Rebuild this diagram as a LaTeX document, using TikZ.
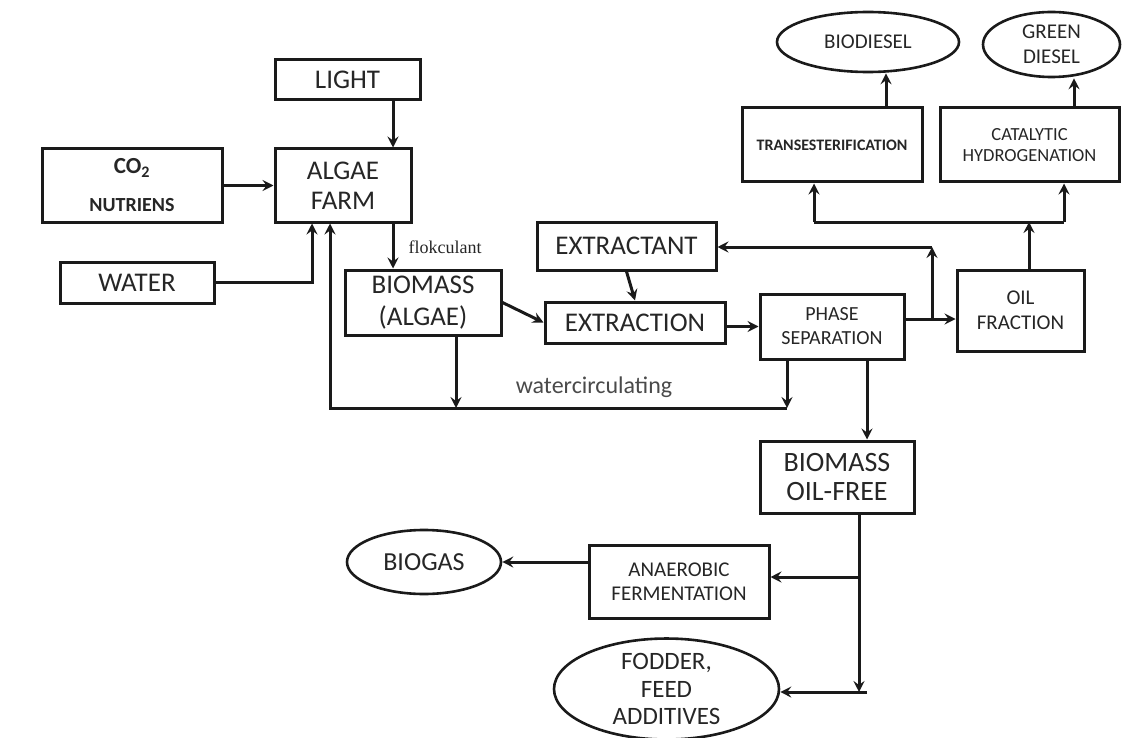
\documentclass[tikz,border=0pt]{standalone}
\usepackage{fontspec}
\setmainfont{Carlito}
\setsansfont{Carlito}
\newfontfamily\serifx{Liberation Serif}
\usetikzlibrary{arrows.meta,shapes.geometric}
\definecolor{linec}{HTML}{1A1A1A}
\definecolor{textc}{HTML}{262626}
\definecolor{wc}{HTML}{4A4A4A}
\newcommand\fsz[2]{\fontsize{#1}{#2}\selectfont}
\tikzset{
  box/.style={draw=linec, line width=3pt, inner sep=0pt, align=center, text=textc},
  oval/.style={ellipse, draw=linec, line width=2.6pt, inner sep=0pt, align=center, text=textc},
  arr/.style={line width=3pt, draw=linec, -{Stealth[length=11pt,width=11pt,inset=4pt]}},
  ln/.style={line width=3pt, draw=linec},
}
\begin{document}
\begin{tikzpicture}[x=1pt,y=-1pt]
\useasboundingbox (0,0) rectangle (1145,738);
% nodes
\node[box,minimum width=145pt,minimum height=40pt,font=\fsz{27}{30}] (light) at (347.5,80) {LIGHT};
\node[box,minimum width=180pt,minimum height=73pt,font=\fsz{23}{38}\bfseries] (co2) at (132,185.5) {CO\textsubscript{2}\\{\fsz{20}{22}\bfseries NUTRIENS}};
\node[box,minimum width=136pt,minimum height=73pt,font=\fsz{27}{30}] (algae) at (343,185.5) {ALGAE\\FARM};
\node[box,minimum width=154pt,minimum height=41pt,font=\fsz{27}{30}] (water) at (137,282.5) {WATER};
\node[box,minimum width=156pt,minimum height=65pt,font=\fsz{27}{32}] (biomass) at (423,302.5) {BIOMASS\\(ALGAE)};
\node[box,minimum width=179pt,minimum height=48pt,font=\fsz{27}{30}] (extractant) at (626.5,246) {EXTRACTANT};
\node[box,minimum width=180pt,minimum height=41pt,font=\fsz{27}{30}] (extraction) at (635,322.5) {EXTRACTION};
\node[box,minimum width=144pt,minimum height=65pt,font=\fsz{20}{24}] (phase) at (832,326.5) {PHASE\\SEPARATION};
\node[box,minimum width=127pt,minimum height=81pt,font=\fsz{21}{25}] (oil) at (1020.5,310.5) {OIL\\FRACTION};
\node[box,minimum width=180pt,minimum height=74pt,font=\fsz{16}{20}\bfseries] (trans) at (832,145) {TRANSESTERIFICATION};
\node[box,minimum width=179pt,minimum height=74pt,font=\fsz{18.5}{21}] (catal) at (1029.5,145) {CATALYTIC\\HYDROGENATION};
\node[oval,minimum width=182pt,minimum height=60pt,font=\fsz{21}{25}] (biodiesel) at (868,42) {BIODIESEL};
\node[oval,minimum width=137pt,minimum height=65pt,font=\fsz{21}{25}] (green) at (1051.5,44.5) {GREEN\\DIESEL};
\node[box,minimum width=154pt,minimum height=72pt,font=\fsz{28}{29}] (bmof) at (837,477) {BIOMASS\\OIL-FREE};
\node[box,minimum width=180pt,minimum height=73pt,font=\fsz{21}{24}] (anaer) at (679,581.5) {ANAEROBIC\\FERMENTATION};
\node[oval,minimum width=154pt,minimum height=64pt,font=\fsz{26}{28}] (biogas) at (424,562) {BIOGAS};
\node[oval,minimum width=225pt,minimum height=92pt,font=\fsz{25}{27.5}] (fodder) at (666.5,689) {FODDER,\\FEED\\ADDITIVES};
% labels
\node[anchor=west,font=\serifx\fsz{18}{20},text=textc] (flok) at (405,247) {flokculant};
\node[font=\fsz{24}{26},text=wc] (wcirc) at (594,387) {watercirculating};
% helper coordinates
\coordinate (xl) at (393,0);
\coordinate (wx) at (312,0);
\coordinate (rl) at (330,408);
\coordinate (pd) at (787,408);
\coordinate (bd) at (456,408);
\coordinate (br) at (932,319);
\coordinate (bt) at (932,247);
\coordinate (ot) at (1029,222);
\coordinate (tl) at (814,222);
\coordinate (tr) at (1064,222);
\coordinate (bx) at (886,0);
\coordinate (gx) at (1074,0);
\coordinate (px) at (867,0);
\coordinate (fx) at (859,0);
\coordinate (fb) at (859,692);
\coordinate (fe) at (867,692);
\coordinate (ab) at (859,577);
% connectors
\draw[arr] (light.south -| xl) -- (algae.north -| xl);
\draw[arr] (co2.east) -- (algae.west);
\draw[arr] (water.east) -| (algae.south -| wx);
\draw[arr] (algae.south -| xl) -- (biomass.north -| xl);
\draw[arr] (biomass.south -| bd) -- (bd);
\draw[arr] (phase.south -| pd) -- (pd);
\draw[arr] (pd) -- (rl) -- (algae.south -| rl);
\draw[arr] (biomass.east) -- (extraction.west);
\draw[arr] (extractant.south) -- (extraction.north);
\draw[arr] (extraction.east |- phase.west) -- (phase.west);
\draw[ln] (phase.east |- br) -- (br);
\draw[arr] (br) -- (br -| oil.west);
\draw[arr] (br) -- (bt);
\draw[arr] (bt) -- (extractant.east |- bt);
\draw[arr] (oil.north -| ot) -- (ot);
\draw[ln] (tl) -- (tr);
\draw[arr] (tl) -- (trans.south -| tl);
\draw[arr] (tr) -- (catal.south -| tr);
\draw[arr] (trans.north -| bx) -- (biodiesel.south -| bx);
\draw[arr] (catal.north -| gx) -- (green.south -| gx);
\draw[arr] (phase.south -| px) -- (bmof.north -| px);
\draw[arr] (bmof.south -| fx) -- (fb);
\draw[ln] (fb) -- (fe);
\draw[arr] (fe) -- (fodder.east |- fe);
\draw[arr] (ab) -- (anaer.east |- ab);
\draw[arr] (anaer.west |- biogas.east) -- (biogas.east);
\end{tikzpicture}
\end{document}
